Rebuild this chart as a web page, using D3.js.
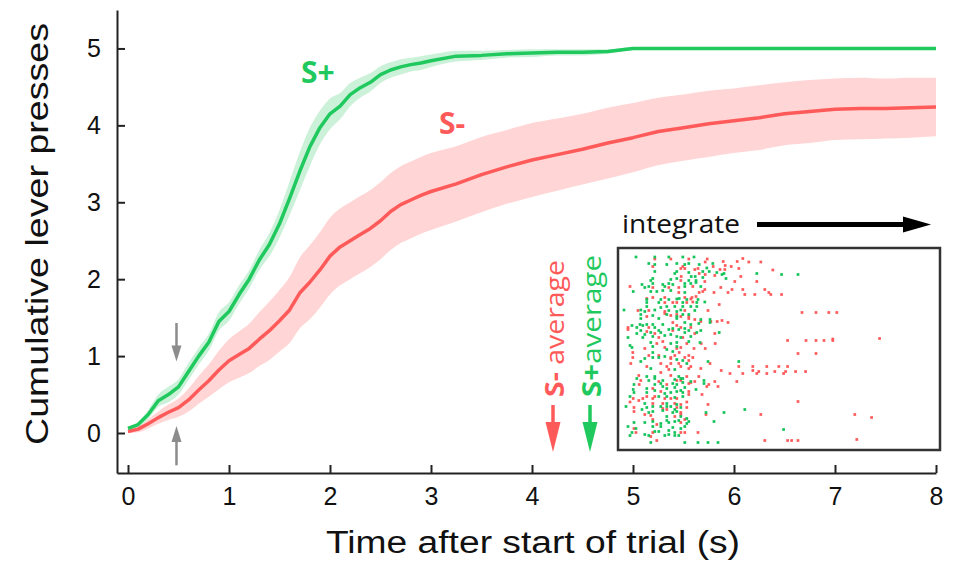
<!DOCTYPE html>
<html><head><meta charset="utf-8">
<script src="https://cdn.jsdelivr.net/npm/d3@7"></script>
<style>body{margin:0;background:#fff}svg{display:block}</style>
</head><body><svg id="c" width="961" height="561"></svg>
<script>
// ---------- data ----------
const times = [0,0.1,0.2,0.3,0.4,0.5,0.6,0.7,0.8,0.9,1.0,1.1,1.2,1.3,1.4,1.5,1.6,1.7,1.8,1.9,2.0,2.1,2.2,2.3,2.4,2.5,2.6,2.7,2.8,2.9,3.0,3.25,3.5,3.75,4.0,4.25,4.5,4.75,5.0,5.25,5.5,5.75,6.0,6.25,6.5,6.75,7.0,7.25,7.5,7.75,8.0];
const sPlusMean = [0.06,0.11,0.24,0.42,0.5,0.6,0.8,1.0,1.18,1.45,1.58,1.8,2.0,2.25,2.45,2.72,3.05,3.4,3.72,3.97,4.15,4.25,4.4,4.49,4.56,4.66,4.72,4.76,4.79,4.81,4.84,4.9,4.91,4.93,4.94,4.95,4.95,4.96,5.0,5,5,5,5,5,5,5,5,5,5,5,5];
const sPlusErr = [.02,.03,.06,.08,.1,.1,.11,.11,.11,.12,.12,.12,.12,.13,.15,.18,.22,.25,.25,.22,.2,.17,.15,.13,.12,.11,.1,.1,.09,.09,.08,.07,.06,.05,.05,.04,.04,.03,.02,.02,.02,.02,.02,.02,.02,.02,.02,.02,.02,.02,.02];
const sMinusMean = [0.02,0.05,0.12,0.2,0.27,0.33,0.43,0.56,0.68,0.82,0.94,1.02,1.1,1.22,1.33,1.46,1.6,1.82,1.96,2.12,2.3,2.42,2.5,2.58,2.66,2.76,2.88,2.97,3.03,3.09,3.14,3.24,3.36,3.46,3.55,3.62,3.69,3.77,3.84,3.92,3.97,4.02,4.06,4.1,4.15,4.18,4.21,4.22,4.22,4.23,4.24];
const sMinusErr = [.02,.04,.06,.08,.1,.12,.15,.18,.21,.25,.28,.3,.32,.35,.38,.4,.43,.46,.48,.49,.5,.5,.5,.5,.5,.5,.5,.5,.5,.5,.5,.49,.49,.48,.48,.47,.46,.46,.45,.44,.43,.43,.42,.42,.41,.41,.4,.4,.39,.39,.38];

const xTicks = [0,1,2,3,4,5,6,7,8];
const yTicks = [0,1,2,3,4,5];

// raster: [time (s), trial]
const rasterSplus = [
[0.40,1.0],[0.87,1.0],[1.22,1.0],[1.57,1.0],[1.85,1.0],
[0.72,2.3],[0.87,2.5],[1.17,2.5],[1.42,2.3],[1.62,2.5],[1.72,2.3],[1.98,2.5],[2.32,2.3],
[2.17,3.2],[2.07,3.9],[2.23,3.9],[0.87,3.9],[1.37,4.3],[1.42,3.9],[1.72,4.1],[2.42,4.1],[2.55,4.5],[2.6,4.3],
[1.78,4.9],[1.88,4.9],[2.07,5.1],[2.65,5.3],[0.82,5.3],[1.27,5.5],[1.42,5.3],[0.77,5.7],[1.72,5.7],[1.9,5.7],
[0.82,6.3],[1.22,6.3],[1.32,6.5],[1.62,6.3],[1.77,6.3],[1.9,6.1],[0.55,6.5],[1.07,6.5],[1.12,6.9],[0.62,7.1],[0.72,6.9],[1.62,6.9],[2.02,6.9],
[0.33,7.9],[0.77,7.9],[0.92,7.9],[1.07,7.7],[1.27,7.7],[1.62,8.1],[1.48,9.3],
[0.67,9.5],[1.02,9.5],[1.22,9.5],[1.42,9.4],[1.67,9.5],[1.95,9.5],
[0.67,10.1],[0.97,10.1],[1.57,10.1],[1.92,10.1],[2.12,10.0],
[0.67,10.9],[1.02,11.1],[1.17,10.9],[1.37,10.9],[1.57,10.9],[1.77,10.9],[1.92,10.9],
[0.1,11.6],[0.52,11.6],[0.62,11.9],[0.87,11.6],[1.22,11.7],[1.42,11.9],[1.52,11.6],[1.87,11.7],
[0.52,12.5],[1.17,12.5],[1.57,12.5],[1.72,12.5],[0.82,12.7],[1.42,12.9],
[0.52,13.3],[0.97,13.3],[1.42,13.3],[2.02,13.5],[2.25,13.5],[1.62,14.1],[1.97,14.3],[2.25,14.1],
[0.3,14.7],[0.5,14.5],[0.57,14.7],[0.67,14.5],[0.82,14.5],[1.07,14.5],[1.77,14.5],
[0.42,15.1],[0.87,15.1],[1.32,15.3],[1.62,15.3],
[0.52,15.7],[0.77,16.1],[0.97,15.7],[1.22,15.5],[1.47,15.5],[1.72,15.7],[2.02,15.7],
[0.42,16.3],[0.62,16.5],[1.02,16.1],[1.27,16.5],[1.62,16.1],[1.92,16.1],[2.48,16.1],
[0.2,17.1],[0.57,17.1],[0.82,16.9],[1.12,16.7],[1.42,16.9],[1.52,17.1],[1.77,16.9],
[0.77,18.1],[1.27,18.3],[1.42,18.1],[1.72,17.9],[2.0,18.1],
[0.25,18.7],[0.3,19.1],[0.82,18.9],[1.42,18.9],
[1.17,19.5],[1.32,19.9],[0.82,20.1],[1.12,20.9],[0.62,21.3],[0.82,21.1],[0.97,21.1],[1.42,21.5],[1.57,21.7],
[0.52,21.9],[1.67,22.3],[2.2,21.9],[0.77,23.3],[1.37,23.5],
[0.67,24.9],[0.87,24.9],[1.47,24.9],[1.52,25.3],[0.42,25.3],[0.72,25.7],[0.87,25.3],[1.07,25.7],[1.37,25.5],[1.57,25.3],[1.77,25.9],[2.1,25.7],
[0.35,26.5],[0.87,26.5],[1.02,26.3],[1.32,26.3],[1.42,26.5],[1.57,26.1],[2.1,26.3],
[0.33,27.5],[0.67,27.3],[1.07,26.9],[1.17,27.3],[1.37,27.1],[1.62,27.1],[1.9,27.5],
[0.35,28.1],[0.67,28.1],[0.87,27.7],[1.12,28.3],[1.27,28.1],[1.42,27.9],[1.52,27.7],[1.57,28.1],
[0.25,28.9],[0.97,28.9],[1.17,28.9],[1.37,29.1],[1.57,28.9],
[0.62,30.3],[1.17,30.3],[1.42,30.5],[0.15,30.9],[0.67,31.1],[0.82,30.9],[1.02,30.9],[1.17,30.9],[1.27,30.9],[1.52,31.1],
[0.55,31.5],[0.82,31.9],[1.07,31.7],[1.37,31.5],[1.42,31.9],[1.32,32.1],[0.72,32.1],[2.15,32.1],[2.6,32.1],
[1.17,32.9],[1.52,32.9],[1.67,33.3],[1.17,33.7],[1.47,33.7],
[0.35,34.1],[0.62,34.1],[0.82,33.9],[1.02,34.3],[1.22,34.1],[1.37,33.9],[1.72,33.9],[1.67,34.3],[2.35,33.9],
[0.2,34.9],[0.4,35.3],[0.3,36.1],[0.82,34.9],[1.02,34.9],[1.32,35.1],[1.52,35.3],[1.62,34.9],[0.87,35.9],[0.97,35.9],[1.22,35.7],[1.37,36.1],
[0.25,36.7],[0.62,36.5],[0.72,36.7],[1.12,36.7],[1.22,36.5],[1.37,36.7],[1.47,36.7],
[0.77,38.1],[1.62,38.1],[1.95,38.1],[2.2,38.1],[2.45,38.1],
[3.42,4.3],[4.04,4.5],[4.45,4.5],[2.97,21.9],[3.12,31.5],[4.09,35.5]
];
const rasterSminus = [
[1.27,1.4],[0.87,1.4],[1.72,1.4],[2.18,1.4],[2.13,2.0],[0.82,2.9],[1.57,2.9],[2.58,1.9],[2.93,1.9],[2.63,2.7],[2.78,2.9],[2.33,2.9],
[1.52,3.3],[1.62,3.3],[1.87,3.5],[1.95,3.3],[2.5,3.5],[2.62,3.5],[1.98,4.3],[2.13,4.5],[2.37,4.7],[1.53,4.9],
[1.52,5.7],[2.12,5.9],[2.87,5.9],[0.25,6.9],[0.82,7.1],[1.22,7.1],[1.47,7.1],[1.82,6.9],[2.12,7.5],[2.52,7.1],[2.8,7.5],
[1.47,8.1],[1.98,8.1],[2.07,7.9],[2.35,8.1],[2.7,8.1],[0.67,9.3],[0.82,9.1],[1.12,9.1],[1.62,9.1],[1.8,9.1],[1.9,8.9],
[1.77,9.4],[1.12,10.1],[1.32,10.1],[1.42,10.1],[1.67,10.1],[1.82,10.0],[2.48,10.5],
[0.45,11.7],[0.72,11.7],[1.12,11.9],[1.62,11.7],[2.2,11.7],[1.12,12.3],[1.42,12.5],[1.27,12.7],[1.52,12.9],[1.72,12.9],[0.67,12.9],
[1.72,13.3],[1.87,13.5],[2.02,13.9],[2.27,13.9],[2.43,13.9],[2.55,13.7],[2.7,14.1],[1.32,14.1],[1.42,14.7],
[0.2,15.1],[0.72,15.1],[1.52,15.1],[1.77,15.1],[0.2,15.5],[0.67,15.9],[1.32,15.7],[0.87,16.3],[1.87,16.3],[2.37,16.3],
[0.97,17.1],[1.57,17.1],[0.92,18.3],[1.07,17.9],[1.67,18.3],[2.03,18.3],[2.38,18.3],
[0.62,19.3],[1.12,19.1],[1.52,19.1],[1.85,19.3],[2.13,19.3],
[1.42,19.3],[0.32,20.1],[1.48,20.1],[0.72,20.7],[0.97,20.7],[1.37,20.7],[1.27,21.1],[1.72,20.7],[1.62,21.1],[1.82,21.1],[0.32,21.1],[1.27,21.3],[1.72,21.7],
[0.27,22.3],[1.02,22.3],[1.27,22.3],[1.47,22.3],[2.25,22.3],[0.67,22.9],[1.17,22.9],[1.52,22.9],[1.77,22.9],
[1.22,23.5],[1.72,23.3],[2.02,23.3],[2.53,23.7],[1.02,24.1],[2.75,24.3],[0.47,24.7],[1.27,24.7],[1.67,24.9],[1.97,24.9],
[0.52,25.7],[0.97,25.9],[1.42,25.7],[1.52,25.7],[1.87,25.9],[2.37,25.9],[2.92,25.9],
[0.48,26.5],[1.17,26.5],[1.72,26.3],[1.77,26.1],[2.22,26.5],[2.45,26.9],[0.82,27.3],[2.17,26.9],
[1.02,27.9],[1.72,27.9],[2.05,28.5],[0.67,28.9],[0.87,28.9],[1.72,28.5],
[0.33,29.3],[0.57,29.3],[0.82,29.3],[1.12,29.3],[1.27,29.3],[1.42,29.3],
[0.25,30.0],[0.47,29.7],[0.82,30.3],[1.07,30.3],[1.37,30.3],[1.52,30.5],[1.67,30.0],[2.2,30.5],
[0.35,31.1],[1.42,31.1],[1.67,31.1],[1.07,31.3],[1.17,31.5],[1.52,32.1],[0.35,31.9],[0.62,32.5],[2.15,32.5],
[0.77,32.7],[1.37,32.9],[1.52,32.5],[0.82,33.5],[1.62,33.5],[0.92,34.5],[1.52,34.1],
[0.35,35.3],[0.4,36.1],[0.82,36.1],[1.52,36.1],[1.62,36.1],[1.95,36.1],[0.77,36.9],[0.92,37.7],
[3.07,1.3],[3.22,2.0],[3.52,2.0],[2.97,3.3],[3.82,3.6],[3.02,4.9],[3.42,5.9],[3.07,7.5],[3.62,7.5],[3.72,8.1],[3.12,8.5],[3.37,8.5],[3.77,8.5],[4.04,8.5],
[4.55,12.1],[4.9,12.1],[5.22,12.1],[5.42,12.1],[4.19,17.7],[4.65,17.7],[4.9,17.7],[5.1,17.7],[5.32,17.4],[5.32,17.7],[6.49,17.3],[4.45,20.3],[4.9,20.3],
[2.97,22.9],[3.32,22.9],[3.67,22.9],[3.97,22.9],[4.19,22.9],[3.32,23.7],[3.47,23.9],[3.07,24.3],[3.42,24.3],[3.67,24.3],[3.87,23.9],[4.09,24.3],[4.14,23.9],[4.39,23.9],[4.64,23.9],
[4.45,29.9],[3.52,32.5],[5.87,32.5],[6.29,33.1],[3.62,37.7],[4.19,37.7],[4.29,37.7],[4.45,37.7],[5.92,37.5]
];

// ---------- styles ----------
const GREEN = "#1fc95e", RED = "#ff5a5a";
const GREEN_BAND = "#c5f0d5", RED_BAND = "#ffd5d5";
const AXFONT = "'Liberation Sans Narrow','Arial Narrow','Liberation Sans',Arial,sans-serif";
const LBLFONT = "'Open Sans','Noto Sans',sans-serif";

const svg = d3.select("#c");
const x = d3.scaleLinear().domain([-11/101, 8]).range([117, 936]);
const y = d3.scaleLinear().domain([-0.52, 5.5]).range([473, 10]);

const seriesP = times.map((t,i)=>({t, m:sPlusMean[i], e:sPlusErr[i]}));
const seriesM = times.map((t,i)=>({t, m:sMinusMean[i], e:sMinusErr[i]}));
const area = d3.area().x(d=>x(d.t)).y0(d=>y(d.m-d.e)).y1(d=>y(d.m+d.e)).curve(d3.curveMonotoneX);
const line = d3.line().x(d=>x(d.t)).y(d=>y(d.m));

svg.append("path").datum(seriesM).attr("d", area).attr("fill", RED_BAND);
svg.append("path").datum(seriesP).attr("d", area).attr("fill", GREEN_BAND).attr("fill-opacity",0.9);
svg.append("path").datum(seriesM).attr("d", line).attr("fill","none").attr("stroke",RED).attr("stroke-width",3.5).attr("stroke-linejoin","round");
svg.append("path").datum(seriesP).attr("d", line).attr("fill","none").attr("stroke",GREEN).attr("stroke-width",3.5).attr("stroke-linejoin","round");

// axes
const xAxis = d3.axisBottom(x).tickValues(xTicks).tickFormat(d3.format("d")).tickSizeInner(-8).tickSizeOuter(0).tickPadding(14);
const yAxis = d3.axisLeft(y).tickValues(yTicks).tickFormat(d3.format("d")).tickSizeInner(-8).tickSizeOuter(0).tickPadding(16);
const gx = svg.append("g").attr("transform","translate(0,473)").call(xAxis);
const gy = svg.append("g").attr("transform","translate(117,0)").call(yAxis);
[gx,gy].forEach(g=>{
  g.selectAll("path,line").attr("stroke","#222").attr("stroke-width",2);
  g.selectAll("text").attr("font-family",AXFONT).attr("font-size",25).attr("fill","#111");
});

svg.append("text").attr("x",533).attr("y",553).attr("text-anchor","middle")
  .attr("font-family",AXFONT).attr("font-size",31).attr("fill","#111")
  .attr("textLength",414).attr("lengthAdjust","spacingAndGlyphs")
  .text("Time after start of trial (s)");
svg.append("text").attr("transform","translate(48,234) rotate(-90)").attr("text-anchor","middle")
  .attr("font-family",AXFONT).attr("font-size",31).attr("fill","#111")
  .attr("textLength",422).attr("lengthAdjust","spacingAndGlyphs")
  .text("Cumulative lever presses");

// series labels
svg.append("text").attr("x",301).attr("y",83).attr("font-family",LBLFONT).attr("font-weight","bold")
  .attr("font-size",30).attr("fill",GREEN).text("S+");
svg.append("text").attr("x",439).attr("y",134).attr("font-family",LBLFONT).attr("font-weight","bold")
  .attr("font-size",30).attr("fill",RED).text("S-");

// gray arrows at t = 0.48
const GRAY = "#8c8c8c";
const ax0 = x(0.48);
function arrow(x0, yFrom, yTo, color, w, hw, hl){
  const dir = yTo > yFrom ? 1 : -1;
  svg.append("line").attr("x1",x0).attr("x2",x0).attr("y1",yFrom).attr("y2",yTo - dir*hl*0.9)
    .attr("stroke",color).attr("stroke-width",w);
  svg.append("path").attr("d",`M${x0-hw},${yTo-dir*hl} L${x0+hw},${yTo-dir*hl} L${x0},${yTo} Z`).attr("fill",color);
}
arrow(ax0, y(1.43), y(0.93), GRAY, 2.5, 5, 16);
arrow(ax0, y(-0.42), y(0.09), GRAY, 2.5, 5, 16);

// inset raster
const rx = d3.scaleLinear().domain([0,8]).range([620,940]);
const ry = d3.scaleLinear().domain([0,40]).range([252,452]);
svg.append("rect").attr("x",618).attr("y",248).attr("width",322).attr("height",202)
  .attr("fill","#fff").attr("stroke","#333").attr("stroke-width",2.5);
const S = 2.7;
svg.append("g").selectAll("rect").data(rasterSminus).join("rect")
  .attr("x",d=>rx(d[0])-S/2).attr("y",d=>ry(d[1])-S/2).attr("width",S).attr("height",S).attr("fill",RED);
svg.append("g").selectAll("rect").data(rasterSplus).join("rect")
  .attr("x",d=>rx(d[0])-S/2).attr("y",d=>ry(d[1])-S/2).attr("width",S).attr("height",S).attr("fill","#14c45a");

// integrate
svg.append("text").attr("x",622).attr("y",233).attr("font-family",LBLFONT).attr("font-size",25).attr("fill","#111")
  .attr("textLength",118).attr("lengthAdjust","spacingAndGlyphs").text("integrate");
svg.append("line").attr("x1",757).attr("x2",906).attr("y1",224.5).attr("y2",224.5).attr("stroke","#000").attr("stroke-width",5);
svg.append("path").attr("d","M903,216.5 L931,224.5 L903,232.5 Z").attr("fill","#000");

// vertical averages labels
function vlabel(xb, color, bold, rest, len){
  const t = svg.append("text").attr("transform",`translate(${xb},397) rotate(-90)`)
    .attr("font-family",LBLFONT).attr("font-size",26).attr("fill",color)
    .attr("textLength",len).attr("lengthAdjust","spacingAndGlyphs");
  t.append("tspan").attr("font-weight","bold").text(bold);
  t.append("tspan").text(rest);
}
vlabel(564, RED, "S-", " average", 137);
vlabel(601, "#1fc95e", "S+", "average", 142);
arrow(553, 405, 452, RED, 3.5, 7.5, 30);
arrow(590, 405, 452, GREEN, 3.5, 7.5, 30);
</script></body></html>
